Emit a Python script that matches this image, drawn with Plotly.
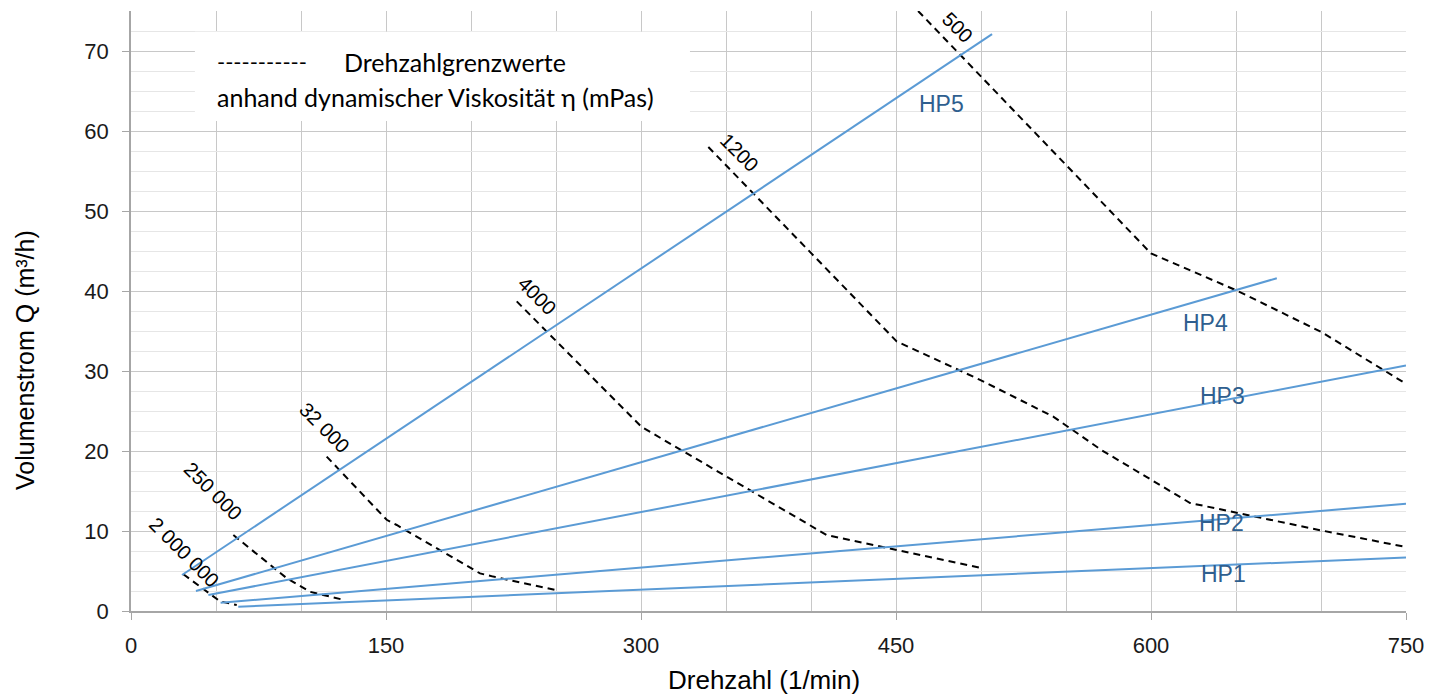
import plotly.graph_objects as go

# ---- data ----
hp_names = ["HP1", "HP2", "HP3", "HP4", "HP5"]
hp_x = [[63.1, 750], [52.7, 750], [45.5, 750], [38.2, 674], [30.0, 506.5]]
hp_y = [[0.54, 6.7], [1.04, 13.4], [2.0, 30.7], [2.5, 41.6], [4.5, 72.1]]
hp_label_x = [642.6, 641.2, 642.1, 632.2, 477.0]
hp_label_y = [4.6, 10.96, 26.9, 35.96, 63.4]

visc_names = ["2 000 000", "250 000", "32 000", "4000", "1200", "500"]
visc_x = [
    [30.8, 52.4, 62.2],
    [60.2, 91.6, 105.3, 124.9],
    [115.1, 150.4, 156.3, 205.3, 213.1, 250.4],
    [226.9, 300.4, 409.2, 501.6],
    [339.6, 450.4, 499.4, 542.5, 571.0, 600.0, 623.0, 699.5, 750.0],
    [463.0, 600.0, 650.0, 700.0, 750.0],
]
visc_y = [
    [4.6, 1.2, 0.75],
    [9.5, 4.1, 2.4, 1.4],
    [19.3, 11.4, 10.75, 4.7, 4.3, 2.6],
    [38.7, 23.0, 9.5, 5.3],
    [58.0, 33.7, 28.9, 24.3, 20.1, 16.4, 13.5, 10.1, 8.0],
    [75.0, 44.7, 40.1, 34.9, 28.4],
]
visc_label_x = [31.2, 48.2, 114.1, 239.1, 358.2, 486.0]
visc_label_y = [7.4, 15.0, 22.9, 39.4, 57.25, 73.0]

x_ticks = [0, 150, 300, 450, 600, 750]
y_ticks = [0, 10, 20, 30, 40, 50, 60, 70]

BLUE = "#5B9BD5"
LABEL_BLUE = "#2F5F8F"
FONT = "Liberation Sans, Arial, sans-serif"
LEG_FONT = "Lato, Carlito, Calibri, sans-serif"

fig = go.Figure()

for name, xs, ys in zip(visc_names, visc_x, visc_y):
    fig.add_trace(go.Scatter(x=xs, y=ys, mode="lines", name=name,
                             line=dict(color="black", width=2, dash="7px,5px"),
                             showlegend=False, hoverinfo="skip"))

for name, xs, ys in zip(hp_names, hp_x, hp_y):
    fig.add_trace(go.Scatter(x=xs, y=ys, mode="lines", name=name,
                             line=dict(color=BLUE, width=2),
                             showlegend=False))

annotations = []
for name, lx, ly in zip(hp_names, hp_label_x, hp_label_y):
    annotations.append(dict(x=lx, y=ly, xref="x", yref="y", text=name,
                            showarrow=False, font=dict(size=23, color=LABEL_BLUE, family=FONT)))
for name, lx, ly in zip(visc_names, visc_label_x, visc_label_y):
    annotations.append(dict(x=lx, y=ly, xref="x", yref="y", text=name, textangle=45,
                            showarrow=False, font=dict(size=20, color="black", family=FONT)))

# pixel-positioned texts (screen coordinates of the reference)
annotations += [
    dict(x=215, y=61.7, xref="paper", yref="paper", text="-----------", showarrow=False,
         xanchor="left", yanchor="middle", font=dict(size=22, color="black", family=LEG_FONT)),
    dict(x=341.7, y=61.7, xref="paper", yref="paper", text="Drehzahlgrenzwerte", showarrow=False,
         xanchor="left", yanchor="middle", font=dict(size=25, color="black", family=LEG_FONT)),
    dict(x=215, y=96.7, xref="paper", yref="paper",
         text="anhand dynamischer Viskosität η (mPas)", showarrow=False,
         xanchor="left", yanchor="middle", font=dict(size=25, color="black", family=LEG_FONT)),
    dict(x=764, y=680, xref="paper", yref="paper", text="Drehzahl (1/min)", showarrow=False,
         xanchor="center", yanchor="middle", font=dict(size=26, color="black", family=FONT)),
    dict(x=25, y=360, xref="paper", yref="paper", text="Volumenstrom Q (m³/h)", showarrow=False,
         textangle=-90, xanchor="center", yanchor="middle", borderpad=0,
         font=dict(size=25, color="black", family=FONT)),
]

# plot area in screen pixels: left 131, top 11, 1275 x 600 (page body has an 8px margin)
PL, PT, PW, PH = 131, 11, 1275, 600
for a in annotations:
    if a["xref"] == "paper":
        a["x"] = (a["x"] - PL) / PW
        a["y"] = 1 - (a["y"] - PT) / PH

shapes = [dict(type="rect", xref="x", yref="y", x0=37.6, x1=328.8, y0=61.25, y1=72.4,
               fillcolor="white", line=dict(width=0), layer="between")]

OFF = 8
W, H = 1435 - OFF, 697 - OFF
fig.update_layout(
    width=W, height=H,
    margin=dict(l=PL - OFF, r=W - (PL - OFF) - PW, t=PT - OFF, b=H - (PT - OFF) - PH),
    paper_bgcolor="white", plot_bgcolor="white",
    font=dict(family=FONT, size=22, color="#1a1a1a"),
    annotations=annotations, shapes=shapes,
    showlegend=False,
)
fig.update_xaxes(range=[0, 750], tickvals=x_ticks, ticks="outside", ticklen=7, tickcolor="#a6a6a6",
                 showline=True, linecolor="#a6a6a6", linewidth=1.5,
                 showgrid=True, gridcolor="#c8c8c8", gridwidth=1.2,
                 minor=dict(dtick=50, tick0=0, showgrid=True, gridcolor="#c8c8c8", gridwidth=1.2, ticks=""),
                 ticklabelstandoff=7, zeroline=False, tickfont=dict(size=22))
fig.update_yaxes(range=[0, 75], tickvals=y_ticks, ticks="outside", ticklen=7, tickcolor="#a6a6a6",
                 showline=True, linecolor="#a6a6a6", linewidth=1.5,
                 showgrid=True, gridcolor="#c8c8c8", gridwidth=1.2,
                 minor=dict(dtick=2.5, tick0=0, showgrid=True, gridcolor="#e6e6e6", gridwidth=1.2, ticks=""),
                 ticklabelstandoff=9, zeroline=False, tickfont=dict(size=22))

fig.write_html("out.html")
